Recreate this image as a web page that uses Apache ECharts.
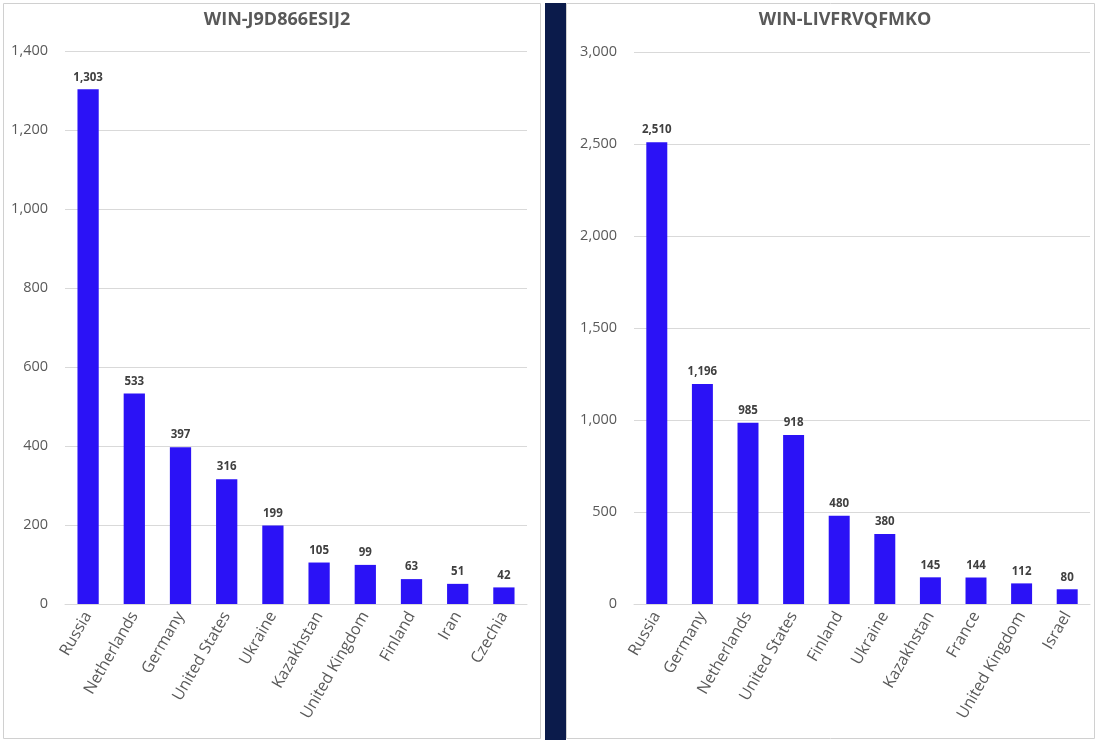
<!DOCTYPE html>
<html><head><meta charset="utf-8">
<script src="https://cdn.jsdelivr.net/npm/echarts@6/dist/echarts.min.js"></script>
<style>html,body{margin:0;padding:0;background:#fff;}#c{width:1098px;height:741px;}</style>
</head><body><div id="c"></div>
<script>
const leftTitle = 'WIN-J9D866ESIJ2';
const leftCategories = ['Russia','Netherlands','Germany','United States','Ukraine','Kazakhstan','United Kingdom','Finland','Iran','Czechia'];
const leftValues = [1303,533,397,316,199,105,99,63,51,42];
const leftTicks = {min:0, max:1400, interval:200};

const rightTitle = 'WIN-LIVFRVQFMKO';
const rightCategories = ['Russia','Germany','Netherlands','United States','Finland','Ukraine','Kazakhstan','France','United Kingdom','Israel'];
const rightValues = [2510,1196,985,918,480,380,145,144,112,80];
const rightTicks = {min:0, max:3000, interval:500};

const FONT = 'Open Sans';
const BAR = '#2b12f6';
const fmt = v => v.toLocaleString('en-US');

const chart = echarts.init(document.getElementById('c'));
function xAxis(gi, cats){
  return {type:'category', gridIndex:gi, data:cats,
    axisLine:{lineStyle:{color:'#d9d9d9'}}, axisTick:{show:false},
    axisLabel:{rotate:60, color:'#595959', fontSize:16, fontFamily:FONT, margin:9, interval:0}};
}
function yAxis(gi, t){
  return {type:'value', gridIndex:gi, min:t.min, max:t.max, interval:t.interval,
    axisLine:{show:false}, axisTick:{show:false},
    splitLine:{lineStyle:{color:'#d9d9d9'}},
    axisLabel:{color:'#595959', fontSize:14.5, fontFamily:FONT, margin:17, formatter:fmt}};
}
function series(gi, vals){
  return {type:'bar', xAxisIndex:gi, yAxisIndex:gi, data:vals, barWidth:'46%',
    itemStyle:{color:BAR},
    label:{show:true, position:'top', distance:6, formatter:p=>fmt(p.value), color:'#404040', fontSize:11.5, fontWeight:'bold', fontFamily:FONT}};
}
chart.setOption({
  animation:false,
  graphic:[
    {type:'rect', shape:{x:3.5,y:3.5,width:537,height:735}, style:{fill:'none', stroke:'#d0d0d0', lineWidth:1}, z:-1},
    {type:'rect', shape:{x:545,y:3,width:21,height:737}, style:{fill:'#0b1b4b'}},
    {type:'rect', shape:{x:566.5,y:3.5,width:528,height:735}, style:{fill:'none', stroke:'#d0d0d0', lineWidth:1}, z:-1}
  ],
  title:[
    {text:leftTitle, left:272, top:6, textAlign:'center', textStyle:{color:'#595959', fontSize:18, fontWeight:'bold', fontFamily:FONT}},
    {text:rightTitle, left:840, top:6, textAlign:'center', textStyle:{color:'#595959', fontSize:18, fontWeight:'bold', fontFamily:FONT}}
  ],
  grid:[
    {left:65, right:1098-527, top:51, bottom:741-604, containLabel:false},
    {left:634, right:8, top:52, bottom:741-604, containLabel:false}
  ],
  xAxis:[xAxis(0,leftCategories), xAxis(1,rightCategories)],
  yAxis:[yAxis(0,leftTicks), yAxis(1,rightTicks)],
  series:[series(0,leftValues), series(1,rightValues)]
});
</script></body></html>
